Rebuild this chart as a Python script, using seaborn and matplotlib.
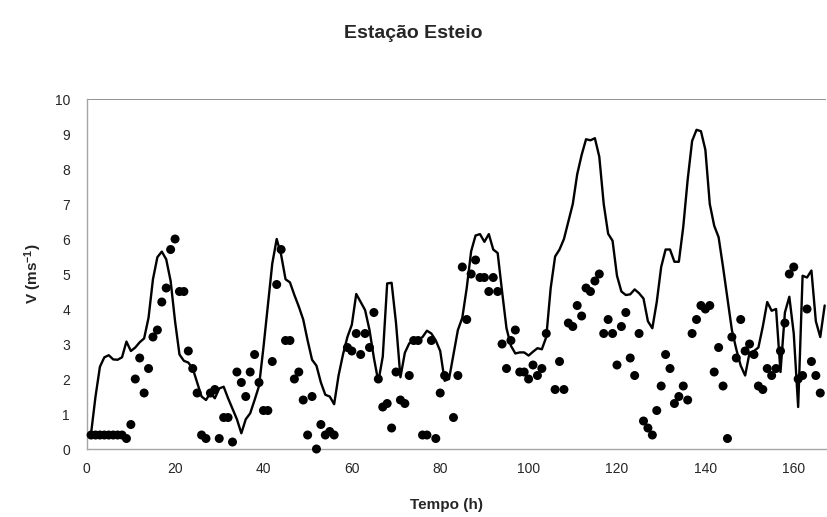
import matplotlib
matplotlib.use('Agg')
import matplotlib.pyplot as plt
from matplotlib.ticker import MultipleLocator
import numpy as np
import seaborn as sns

# observed wind speed (dots), hourly; nan = no observation
hours_obs = np.arange(1, 167)
v_obs = [0.4, 0.4, 0.4, 0.4, 0.4, 0.4, 0.4, 0.4, 0.3, 0.7,
         2.0, 2.6, 1.6, 2.3, 3.2, 3.4, 4.2, 4.6, 5.7, 6.0,
         4.5, 4.5, 2.8, 2.3, 1.6, 0.4, 0.3, 1.6, 1.7, 0.3,
         0.9, 0.9, 0.2, 2.2, 1.9, 1.5, 2.2, 2.7, 1.9, 1.1,
         1.1, 2.5, 4.7, 5.7, 3.1, 3.1, 2.0, 2.2, 1.4, 0.4,
         1.5, 0.0, 0.7, 0.4, 0.5, 0.4, np.nan, np.nan, 2.9, 2.8,
         3.3, 2.7, 3.3, 2.9, 3.9, 2.0, 1.2, 1.3, 0.6, 2.2,
         1.4, 1.3, 2.1, 3.1, 3.1, 0.4, 0.4, 3.1, 0.3, 1.6,
         2.1, np.nan, 0.9, 2.1, 5.2, 3.7, 5.0, 5.4, 4.9, 4.9,
         4.5, 4.9, 4.5, 3.0, 2.3, 3.1, 3.4, 2.2, 2.2, 2.0,
         2.4, 2.1, 2.3, 3.3, np.nan, 1.7, 2.5, 1.7, 3.6, 3.5,
         4.1, 3.8, 4.6, 4.5, 4.8, 5.0, 3.3, 3.7, 3.3, 2.4,
         3.5, 3.9, 2.6, 2.1, 3.3, 0.8, 0.6, 0.4, 1.1, 1.8,
         2.7, 2.3, 1.3, 1.5, 1.8, 1.4, 3.3, 3.7, 4.1, 4.0,
         4.1, 2.2, 2.9, 1.8, 0.3, 3.2, 2.6, 3.7, 2.8, 3.0,
         2.7, 1.8, 1.7, 2.3, 2.1, 2.3, 2.8, 3.6, 5.0, 5.2,
         2.0, 2.1, 4.0, 2.5, 2.1, 1.6]

# modelled wind speed (line), hourly
hours_mod = np.arange(1, 168)
v_mod = [0.45, 1.5, 2.35, 2.62, 2.68, 2.56, 2.55, 2.62, 3.07, 2.8,
         2.9, 3.05, 3.16, 3.75, 4.85, 5.48, 5.64, 5.42, 4.8, 3.65,
         2.7, 2.52, 2.47, 2.3, 1.9, 1.5, 1.4, 1.6, 1.45, 1.73,
         1.78, 1.45, 1.15, 0.85, 0.45, 0.85, 1.02, 1.4, 1.8, 2.9,
         4.1, 5.3, 6.0, 5.55, 4.85, 4.76, 4.4, 4.07, 3.7, 3.1,
         2.55, 2.38, 1.9, 1.55, 1.5, 1.28, 2.1, 2.7, 3.2, 3.55,
         4.43, 4.2, 3.97, 3.4, 2.6, 1.92, 2.64, 4.73, 4.75, 3.6,
         2.05, 2.75, 3.02, 3.08, 3.11, 3.2, 3.38, 3.3, 3.1, 2.8,
         1.95, 2.0, 2.7, 3.4, 3.75, 4.6, 5.65, 6.1, 6.14, 5.92,
         6.14, 5.7, 5.6, 4.5, 3.45, 2.95, 2.73, 2.76, 2.76, 2.67,
         2.78, 2.88, 2.85, 3.2, 4.6, 5.5, 5.7, 6.0, 6.5, 7.0,
         7.85, 8.4, 8.85, 8.82, 8.88, 8.35, 7.0, 6.15, 5.95, 4.95,
         4.5, 4.4, 4.42, 4.56, 4.45, 4.3, 3.65, 3.45, 4.2, 5.2,
         5.7, 5.7, 5.35, 5.35, 6.35, 7.7, 8.8, 9.12, 9.08, 8.55,
         7.0, 6.38, 6.05, 5.2, 4.3, 3.4, 2.85, 2.38, 2.1, 2.75,
         2.8, 2.9, 3.5, 4.2, 3.95, 4.0, 2.2, 3.9, 4.35, 3.3,
         1.2, 4.95, 4.9, 5.1, 3.65, 3.2, 4.1]

sns.set_theme(style='white')
plt.rcParams['font.family'] = ['Liberation Sans', 'DejaVu Sans']
plt.rcParams['mathtext.default'] = 'regular'

fig = plt.figure(figsize=(8.27, 5.17), dpi=100)
ax = fig.add_axes([0.1048, 0.1315, 0.894, 0.677])

sns.lineplot(x=hours_mod, y=v_mod, color='black', lw=1.7, estimator=None, ax=ax)
sns.scatterplot(x=hours_obs, y=v_obs, color='black', s=42, edgecolor='none',
                ax=ax, zorder=3, clip_on=False)

ax.set_xlim(0, 167.3)
ax.set_ylim(0, 10)
ax.axhline(10, color='#7f7f7f', lw=1.2, zorder=0)

for side in ['top', 'right']:
    ax.spines[side].set_visible(False)
for side in ['left', 'bottom']:
    ax.spines[side].set_color('#a6a6a6')
    ax.spines[side].set_linewidth(1.0)

ax.xaxis.set_major_locator(MultipleLocator(20))
ax.xaxis.set_minor_locator(MultipleLocator(4))
ax.yaxis.set_major_locator(MultipleLocator(1))
ax.tick_params(axis='x', which='both', direction='in', length=5, width=0.8,
               color='#a6a6a6', labelsize=10, pad=9)
ax.tick_params(axis='y', length=0, labelsize=10, pad=12)
ax.set_xlabel('')
ax.set_ylabel('')

fig.text(0.5, 1 - 33 / 517, 'Estação Esteio', ha='center', va='center',
         fontsize=14, fontweight='bold')
fig.text(446 / 827, 1 - 505 / 517, 'Tempo (h)', ha='center', va='center',
         fontsize=11, fontweight='bold')
fig.text(33 / 827, 1 - 274 / 517, r'V (ms$^{-1}$)', ha='center', va='center',
         rotation=90, fontsize=11, fontweight='bold')

fig.savefig('out.png', dpi=100)
